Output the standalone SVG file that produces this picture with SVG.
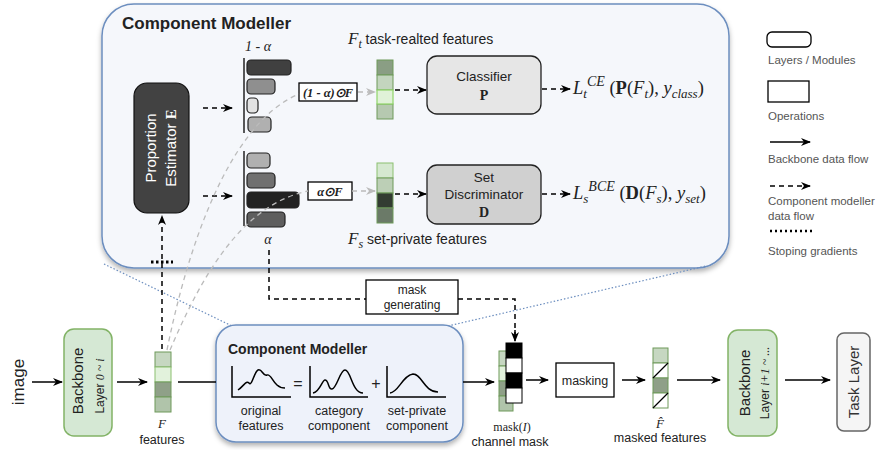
<svg xmlns="http://www.w3.org/2000/svg" width="882" height="450" viewBox="0 0 882 450">
<defs>
<marker id="ah" viewBox="0 0 10 8" refX="9" refY="4" markerWidth="10" markerHeight="8" orient="auto" markerUnits="userSpaceOnUse"><path d="M0,0 L10,4 L0,8 L3,4 z" fill="#000"/></marker>
<marker id="ahg" viewBox="0 0 10 8" refX="9" refY="4" markerWidth="10" markerHeight="8" orient="auto" markerUnits="userSpaceOnUse"><path d="M0,0 L10,4 L0,8 L3,4 z" fill="#bbb"/></marker>
<filter id="sh" x="-10%" y="-10%" width="120%" height="130%"><feDropShadow dx="0" dy="3" stdDeviation="2.5" flood-color="#000" flood-opacity="0.3"/></filter>
</defs>
<style>
text{font-family:"Liberation Sans",Arial,sans-serif;fill:#222}
text.s{font-family:"Liberation Serif","Times New Roman",serif}
.m{font-family:"Liberation Serif","Times New Roman",serif;font-style:italic}
.b{font-weight:bold}
.lg{font-size:11.5px;fill:#555}
.fl{fill:none;stroke:#000;stroke-width:1.5}
.dash{fill:none;stroke:#000;stroke-width:1.5;stroke-dasharray:5 4}
.gd{fill:none;stroke:#bbb;stroke-width:1.3;stroke-dasharray:5 4}
.bar{stroke:#222;stroke-width:1.2}
.cell{stroke:#6f9a5a;stroke-width:1}
.curve{fill:none;stroke:#000;stroke-width:1.5}
.ax{fill:none;stroke:#000;stroke-width:1.5}
.blue{fill:none;stroke:#6c8ebf;stroke-width:1.2;stroke-dasharray:1.5 2}
</style>

<!-- big panel -->
<g id="panel">
<rect x="102" y="4" width="627" height="264" rx="32" fill="#f5f7fb" stroke="#6c8ebf" stroke-width="1.5" filter="url(#sh)"/>
<text x="122" y="29" font-size="17" class="b">Component Modeller</text>
</g>

<!-- blue dotted zoom lines -->
<g id="zoomlines">
<line x1="104" y1="264" x2="232" y2="326" class="blue"/>
<line x1="448" y1="326" x2="706" y2="266" class="blue"/>
</g>

<g id="proportion-estimator">
<rect x="134" y="83" width="55" height="130" rx="13" fill="#424242" stroke="#111" stroke-width="1.2"/>
<text transform="translate(156,148) rotate(-90)" text-anchor="middle" font-size="15" style="fill:#fff">Proportion</text>
<text transform="translate(176,148) rotate(-90)" text-anchor="middle" font-size="15" style="fill:#fff">Estimator <tspan font-family="Liberation Serif,serif" font-weight="bold">E</tspan></text>
</g>

<g id="bars-1-alpha">
<text x="258" y="51" class="m" font-size="14" text-anchor="middle">1 - α</text>
<line x1="244" y1="58" x2="244" y2="133" stroke="#222" stroke-width="1.5"/>
<rect x="247" y="60" width="44" height="15" rx="4" fill="#404040" class="bar"/>
<rect x="247" y="79" width="28" height="15" rx="4" fill="#8f8f8f" class="bar"/>
<rect x="247" y="98" width="11" height="15" rx="4" fill="#e2e2e2" class="bar"/>
<rect x="248" y="117" width="23" height="15" rx="4" fill="#b0b0b0" class="bar"/>
</g>

<g id="bars-alpha">
<line x1="244" y1="151" x2="244" y2="226" stroke="#222" stroke-width="1.5"/>
<rect x="247" y="153" width="23" height="15" rx="4" fill="#b0b0b0" class="bar"/>
<rect x="247" y="173" width="28" height="15" rx="4" fill="#707070" class="bar"/>
<rect x="247" y="192" width="52" height="16" rx="4" fill="#222" class="bar"/>
<rect x="247" y="212" width="38" height="15" rx="4" fill="#5e5e5e" class="bar"/>
<text x="268" y="244" class="m" font-size="14" text-anchor="middle">α</text>
</g>

<g id="op-1-alpha">
<rect x="299" y="83" width="58" height="18" fill="#fff" stroke="#000" stroke-width="1.3"/>
<text x="328" y="96.5" text-anchor="middle" font-size="12.5" class="m b">(1 - α)⊙F</text>
</g>
<g id="op-alpha">
<rect x="308" y="182" width="44" height="18" fill="#fff" stroke="#000" stroke-width="1.3"/>
<text x="330" y="195.5" text-anchor="middle" font-size="12.5" class="m b">α⊙F</text>
</g>

<g id="Ft">
<rect x="377" y="60" width="16" height="15" fill="#8a9e84" class="cell"/>
<rect x="377" y="75" width="16" height="15" fill="#c3d5be" class="cell"/>
<rect x="377" y="104" width="16" height="15" fill="#b6c9b0" class="cell"/>
<rect x="377" y="90" width="16" height="14" fill="#e0f2d8" stroke="#8fd46a" stroke-width="1.2"/>
<text x="348" y="44" font-size="17"><tspan class="m">F</tspan><tspan class="m" font-size="12" dy="4">t</tspan><tspan font-size="14" dy="-4"> task-realted features</tspan></text>
</g>

<g id="Fs">
<rect x="377" y="163" width="16" height="15" fill="#d5e8d0" stroke="#8cc070" stroke-width="1"/>
<rect x="377" y="178" width="16" height="15" fill="#bccfb6" class="cell"/>
<rect x="377" y="193" width="16" height="15" fill="#333c32" class="cell"/>
<rect x="377" y="208" width="16" height="15" fill="#6b7a68" class="cell"/>
<text x="348" y="244" font-size="17"><tspan class="m">F</tspan><tspan class="m" font-size="12" dy="4">s</tspan><tspan font-size="14" dy="-4"> set-private features</tspan></text>
</g>

<g id="classifier">
<rect x="427" y="56" width="114" height="58" rx="10" fill="#e6e6e6" stroke="#222" stroke-width="1.3"/>
<text x="484" y="81" text-anchor="middle" font-size="13.5">Classifier</text>
<text x="484" y="100" text-anchor="middle" font-size="14" class="s b">P</text>
</g>

<g id="set-discriminator">
<rect x="427" y="165" width="114" height="59" rx="10" fill="#d0d0d0" stroke="#222" stroke-width="1.3"/>
<text x="484" y="182" text-anchor="middle" font-size="13.5">Set</text>
<text x="484" y="199" text-anchor="middle" font-size="13.5">Discriminator</text>
<text x="484" y="217" text-anchor="middle" font-size="14" class="s b">D</text>
</g>

<g id="losses">
<text x="573" y="94" font-size="18.5" class="s"><tspan class="m">L</tspan><tspan class="m" font-size="13" dy="4">t</tspan><tspan class="m" font-size="14" dy="-12">CE</tspan><tspan dy="8"> (</tspan><tspan font-weight="bold">P</tspan><tspan>(</tspan><tspan class="m">F</tspan><tspan class="m" font-size="13" dy="4">t</tspan><tspan dy="-4">), </tspan><tspan class="m">y</tspan><tspan class="m" font-size="13" dy="4">class</tspan><tspan dy="-4">)</tspan></text>
<text x="573" y="199" font-size="18.5" class="s"><tspan class="m">L</tspan><tspan class="m" font-size="13" dy="4">s</tspan><tspan class="m" font-size="14" dy="-12">BCE</tspan><tspan dy="8"> (</tspan><tspan font-weight="bold">D</tspan><tspan>(</tspan><tspan class="m">F</tspan><tspan class="m" font-size="13" dy="4">s</tspan><tspan dy="-4">), </tspan><tspan class="m">y</tspan><tspan class="m" font-size="13" dy="4">set</tspan><tspan dy="-4">)</tspan></text>
</g>

<!-- legend -->
<g id="legend">
<rect x="767" y="32" width="44" height="15" rx="5" fill="#fff" stroke="#000" stroke-width="1.3"/>
<text x="768" y="64" class="lg">Layers / Modules</text>
<rect x="768" y="81" width="41" height="21" fill="#fff" stroke="#000" stroke-width="1.3"/>
<text x="768" y="120" class="lg">Operations</text>
<line x1="770" y1="142" x2="810" y2="142" class="fl" marker-end="url(#ah)"/>
<text x="768" y="163" class="lg">Backbone data flow</text>
<line x1="770" y1="186" x2="810" y2="186" class="dash" stroke-dasharray="4 3" marker-end="url(#ah)"/>
<text x="768" y="205" class="lg">Component modeller</text>
<text x="768" y="220" class="lg">data flow</text>
<line x1="770" y1="231" x2="813" y2="231" stroke="#000" stroke-width="2.5" stroke-dasharray="2 3"/>
<text x="768" y="255" class="lg">Stoping gradients</text>
</g>

<!-- bottom row -->
<g id="image-label">
<text transform="translate(24,382) rotate(-90)" text-anchor="middle" font-size="17">image</text>
</g>

<g id="backbone-1">
<rect x="64" y="329" width="48" height="107" rx="10" fill="#d5e8d4" stroke="#82b366" stroke-width="1.5"/>
<text transform="translate(83,381) rotate(-90)" text-anchor="middle" font-size="15">Backbone</text>
<text transform="translate(104,386) rotate(-90)" text-anchor="middle" font-size="12">Layer <tspan class="m">0 ~ i</tspan></text>
</g>

<g id="F">
<rect x="155" y="352" width="16" height="15" fill="#c6d7c1" class="cell"/>
<rect x="155" y="367" width="16" height="15" fill="#e2f2dc" stroke="#8cc070"/>
<rect x="155" y="382" width="16" height="15" fill="#8fa088" class="cell"/>
<rect x="155" y="397" width="16" height="15" fill="#b0c4aa" class="cell"/>
<text x="162" y="428" class="m" font-size="13" text-anchor="middle">F</text>
<text x="162" y="444" font-size="12.5" text-anchor="middle">features</text>
</g>

<g id="component-modeller-small">
<rect x="216" y="325" width="247" height="117" rx="20" fill="#eef2fa" stroke="#6c8ebf" stroke-width="1.5" filter="url(#sh)"/>
<text x="228" y="354" font-size="14" class="b">Component Modeller</text>
<path d="M232,366 V397 H291" class="ax"/>
<path d="M238,390 C244,386 246,380 249,383 C252,387 254,372 258,370 C262,368 263,377 267,375 C272,373 273,388 285,388" class="curve"/>
<text x="298" y="389" text-anchor="middle" font-size="16">=</text>
<path d="M310,366 V397 H368" class="ax"/>
<path d="M313,393 C320,392 322,380 325,380 C329,380 328,390 332,389 C337,388 340,370 345,370 C351,370 352,393 363,393" class="curve"/>
<text x="376" y="389" text-anchor="middle" font-size="16">+</text>
<path d="M387,366 V397 H446" class="ax"/>
<path d="M390,393 C398,393 403,375 413,374 C422,374 424,392 438,392" class="curve"/>
<text x="261" y="415" text-anchor="middle" font-size="12.5">original</text>
<text x="261" y="430" text-anchor="middle" font-size="12.5">features</text>
<text x="339" y="415" text-anchor="middle" font-size="12.5">category</text>
<text x="339" y="430" text-anchor="middle" font-size="12.5">component</text>
<text x="417" y="415" text-anchor="middle" font-size="12.5">set-private</text>
<text x="417" y="430" text-anchor="middle" font-size="12.5">component</text>
</g>

<g id="mask-generating">
<rect x="366" y="280" width="92" height="34" fill="#fff" stroke="#000" stroke-width="1.3"/>
<text x="412" y="294" text-anchor="middle" font-size="12">mask</text>
<text x="412" y="309" text-anchor="middle" font-size="12">generating</text>
</g>

<g id="channel-mask">
<rect x="499" y="351" width="14" height="15" fill="#c6d7c1" class="cell"/>
<rect x="499" y="366" width="14" height="15" fill="#e2f2dc" class="cell"/>
<rect x="499" y="381" width="14" height="15" fill="#8fa088" class="cell"/>
<rect x="499" y="396" width="14" height="15" fill="#b0c4aa" class="cell"/>
<rect x="506" y="343" width="16" height="15" fill="#000" stroke="#000"/>
<rect x="506" y="358" width="16" height="15" fill="#fff" stroke="#000"/>
<rect x="506" y="373" width="16" height="15" fill="#000" stroke="#000"/>
<rect x="506" y="388" width="16" height="15" fill="#fff" stroke="#000"/>
<text x="512" y="431" text-anchor="middle" font-size="12" class="s">mask(<tspan class="m">I</tspan>)</text>
<text x="510" y="446" text-anchor="middle" font-size="12.5">channel mask</text>
</g>

<g id="masking">
<rect x="556" y="363" width="58" height="34" fill="#fff" stroke="#000" stroke-width="1.3"/>
<text x="585" y="385" text-anchor="middle" font-size="12.5">masking</text>
</g>

<g id="masked-features">
<rect x="653" y="348" width="15" height="15" fill="#c6d7c1" class="cell"/>
<rect x="653" y="363" width="15" height="15" fill="#fff" class="cell"/>
<rect x="653" y="378" width="15" height="15" fill="#8fa088" class="cell"/>
<rect x="653" y="393" width="15" height="15" fill="#fff" class="cell"/>
<line x1="653" y1="378" x2="668" y2="363" stroke="#000" stroke-width="1.2"/>
<line x1="653" y1="408" x2="668" y2="393" stroke="#000" stroke-width="1.2"/>
<text x="660" y="428" class="m" font-size="13" text-anchor="middle">F̂</text>
<text x="660" y="442" font-size="12.5" text-anchor="middle">masked features</text>
</g>

<g id="backbone-2">
<rect x="728" y="330" width="49" height="106" rx="10" fill="#d5e8d4" stroke="#82b366" stroke-width="1.5"/>
<text transform="translate(750,383) rotate(-90)" text-anchor="middle" font-size="15">Backbone</text>
<text transform="translate(769,383) rotate(-90)" text-anchor="middle" font-size="12">Layer <tspan class="m">i+1 ~ ...</tspan></text>
</g>

<g id="task-layer">
<rect x="837" y="333" width="33" height="98" rx="7" fill="#f5f5f5" stroke="#666" stroke-width="1.5"/>
<text transform="translate(859,382) rotate(-90)" text-anchor="middle" font-size="15" style="fill:#333">Task Layer</text>
</g>

<!-- connectors -->
<g id="connectors">
<line x1="203" y1="108" x2="232" y2="108" class="dash" marker-end="url(#ah)"/>
<line x1="203" y1="196" x2="232" y2="196" class="dash" marker-end="url(#ah)"/>
<path d="M167,350 C185,260 225,125 299,94" class="gd"/>
<path d="M170,350 C200,280 240,205 308,191" class="gd"/>
<line x1="358" y1="92" x2="375" y2="92" class="gd" marker-end="url(#ahg)"/>
<line x1="352" y1="191" x2="375" y2="191" class="gd" marker-end="url(#ahg)"/>
<line x1="395" y1="90" x2="426" y2="90" class="dash" marker-end="url(#ah)"/>
<line x1="395" y1="194" x2="426" y2="194" class="dash" marker-end="url(#ah)"/>
<line x1="542" y1="89" x2="570" y2="89" class="dash" marker-end="url(#ah)"/>
<line x1="542" y1="194" x2="570" y2="194" class="dash" marker-end="url(#ah)"/>
<line x1="162" y1="349" x2="162" y2="216" class="dash" marker-end="url(#ah)"/>
<line x1="151" y1="262" x2="173" y2="262" stroke="#000" stroke-width="3" stroke-dasharray="2.5 2.5"/>
<path d="M269,250 V299 H366 M458,299 H515 V340" class="dash"/>
<line x1="515" y1="330" x2="515" y2="341" class="fl" stroke-width="0" marker-end="url(#ah)"/>
<line x1="32" y1="382" x2="62" y2="382" class="fl" marker-end="url(#ah)"/>
<line x1="117" y1="382" x2="147" y2="382" class="fl" marker-end="url(#ah)"/>
<line x1="178" y1="382" x2="216" y2="382" class="fl"/>
<line x1="463" y1="382" x2="494" y2="382" class="fl" marker-end="url(#ah)"/>
<line x1="526" y1="380" x2="548" y2="380" class="fl" marker-end="url(#ah)"/>
<line x1="622" y1="380" x2="645" y2="380" class="fl" marker-end="url(#ah)"/>
<line x1="677" y1="380" x2="720" y2="380" class="fl" marker-end="url(#ah)"/>
<line x1="785" y1="380" x2="830" y2="380" class="fl" marker-end="url(#ah)"/>
</g>
</svg>
